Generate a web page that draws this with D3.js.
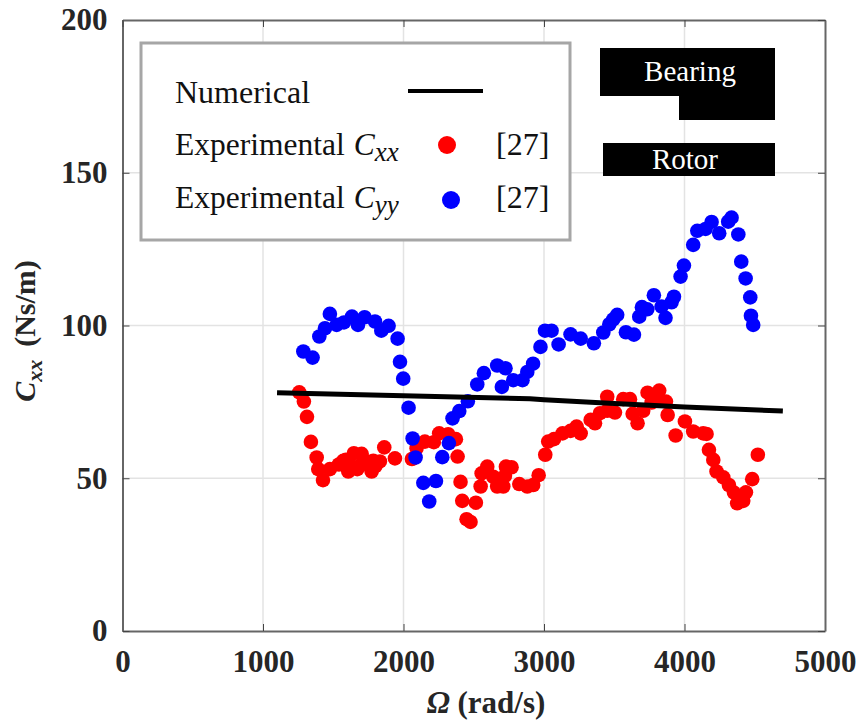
<!DOCTYPE html>
<html>
<head>
<meta charset="utf-8">
<script src="https://cdn.jsdelivr.net/npm/d3@7"></script>
<style>
html, body { margin: 0; padding: 0; background: #fff; }
svg { display: block; }
text { font-family: "Liberation Serif", serif; }
</style>
</head>
<body>
<svg width="859" height="720"></svg>
<script>
// Values
var lineSpeed = [1100, 2000, 2900, 3000, 3500, 4000, 4700];
var lineValues = [78, 77, 76, 75.7, 74.5, 73.3, 72];

var cxxSpeed = [1258, 1291, 1313, 1341, 1382, 1393, 1427, 1476, 1540, 1571, 1590, 1607, 1630, 1647, 1671, 1702, 1700, 1740, 1773, 1785, 1800, 1832, 1863, 1939,
    2060, 2093, 2152, 2216, 2254, 2318, 2373, 2385, 2406, 2418, 2515, 2449, 2477, 2549, 2556, 2596, 2639, 2667, 2710, 2722, 2729, 2769, 2824, 2881, 2923, 2962,
    3009, 3030, 3071, 3132, 3189, 3232, 3261, 3332, 3363, 3398, 3450, 3450, 3505, 3564, 3612, 3631, 3666, 3706, 3737, 3766, 3820, 3813, 3868, 3880, 3937,
    4003, 4062, 4133, 4157, 4174, 4205, 4228, 4276, 4316, 4352, 4375, 4418, 4437, 4482, 4522];
var cxxValues = [78.1, 75.1, 70.1, 61.9, 56.8, 53, 49.4, 53, 54.5, 55.7, 56, 52.2, 54, 58.2, 53, 58, 54.5, 55.5, 52.2, 55.7, 54, 55.5, 60.1, 56.5,
    56.3, 59.8, 62, 61.8, 64.7, 64.4, 62.8, 57.1, 48.8, 42.6, 42, 36.6, 35.7, 47.3, 51.6, 53.8, 50.5, 47.3, 47.3, 50.8, 53.8, 53.6, 48.1, 47.3, 47.8, 51,
    57.7, 62, 62.8, 64.7, 65.5, 66.9, 64.7, 69.1, 68, 71.3, 76.7, 72.1, 71.5, 75.9, 75.9, 71.1, 68, 72.1, 78, 74.8, 78.7, 76.2, 75.1, 70.7, 64,
    68.6, 65.3, 64.7, 64.5, 59.3, 56, 52.2, 50.3, 47.8, 45.3, 41.8, 42.6, 45.4, 49.7, 57.7];

var cyySpeed = [1287, 1353, 1401, 1441, 1476, 1524, 1576, 1633, 1676, 1723, 1797, 1842, 1894, 1958, 1975, 1998,
    2036, 2065, 2086, 2141, 2231, 2183, 2276, 2323, 2349, 2397, 2458, 2525, 2572, 2667, 2726, 2700, 2781, 2847, 2881, 2922, 2975,
    3007, 3054, 3104, 3189, 3261, 3355, 3422, 3465, 3493, 3521, 3583, 3640, 3678, 3697, 3735, 3782, 3837, 3865, 3908, 3925, 3972, 3996,
    4062, 4091, 4150, 4193, 4247, 4311, 4335, 4383, 4404, 4435, 4468, 4473, 4489];
var cyyValues = [91.5, 89.5, 96.4, 99.1, 103.8, 100.2, 101, 102.9, 100.2, 102.7, 101.3, 98.3, 99.9, 95.7, 88.1, 82.6,
    73.1, 63, 56.8, 48.5, 49.1, 42.4, 56.9, 61.5, 69.6, 72, 75.2, 80.7, 84.4, 86.9, 86, 79.9, 82.1, 82.1, 84.8, 87.5, 93,
    98.3, 98.3, 93.8, 97.1, 95.7, 94.2, 97.7, 100.4, 102, 103.5, 97.8, 97, 102.9, 106, 105.3, 109.9, 106.2, 102.5, 107.6, 109.4, 116, 119.6,
    126.4, 131, 131.6, 133.9, 130.2, 134, 135.3, 129.8, 120.9, 115.4, 109.2, 103.2, 100.2];

var xTicks = [0, 1000, 2000, 3000, 4000, 5000];
var yTicks = [0, 50, 100, 150, 200];

var svg = d3.select("svg");

var left = 122.5, right = 825, top_ = 20, bottom = 631;

var x = d3.scaleLinear().domain([0, 5000]).range([left, right]);
var y = d3.scaleLinear().domain([0, 200]).range([bottom, top_]);

// Grid
svg.append("g").selectAll("line").data(xTicks.slice(1, -1)).join("line")
    .attr("x1", d => x(d)).attr("x2", d => x(d))
    .attr("y1", top_).attr("y2", bottom)
    .attr("stroke", "#e3e3e3").attr("stroke-width", 1.5);
svg.append("g").selectAll("line").data(yTicks.slice(1, -1)).join("line")
    .attr("x1", left).attr("x2", right)
    .attr("y1", d => y(d)).attr("y2", d => y(d))
    .attr("stroke", "#e3e3e3").attr("stroke-width", 1.5);

// Points and numerical curve
svg.append("g").selectAll("circle").data(cxxSpeed).join("circle")
    .attr("cx", d => x(d))
    .attr("cy", (d, i) => y(cxxValues[i]))
    .attr("r", 7.3)
    .attr("fill", "#ff0000");
svg.append("g").selectAll("circle").data(cyySpeed).join("circle")
    .attr("cx", d => x(d))
    .attr("cy", (d, i) => y(cyyValues[i]))
    .attr("r", 7.3)
    .attr("fill", "#0000ff");

var line = d3.line().x(d => x(d)).y((d, i) => y(lineValues[i]));
svg.append("path")
    .attr("d", line(lineSpeed))
    .attr("fill", "none")
    .attr("stroke", "#000")
    .attr("stroke-width", 5);

// Axes, MATLAB style: box with ticks pointing inward
function styleAxis(g) {
    g.selectAll(".domain").attr("stroke", "#666").attr("stroke-width", 2);
    g.selectAll(".tick line").attr("stroke", "#444").attr("stroke-width", 1);
    g.selectAll(".tick text")
        .attr("font-family", "Liberation Serif")
        .attr("font-size", 31)
        .attr("font-weight", "bold")
        .attr("fill", "#262626");
}

svg.append("g").attr("transform", "translate(0," + bottom + ")")
    .call(d3.axisBottom(x).tickValues(xTicks).tickFormat(d3.format("d")).tickSize(-7).tickPadding(19).tickSizeOuter(0))
    .call(styleAxis);
svg.append("g").attr("transform", "translate(" + left + ",0)")
    .call(d3.axisLeft(y).tickValues(yTicks).tickFormat(d3.format("d")).tickSize(-7).tickPadding(15).tickSizeOuter(0))
    .call(styleAxis);
svg.append("g").attr("transform", "translate(0," + top_ + ")")
    .call(d3.axisTop(x).tickValues(xTicks).tickSize(-7).tickFormat("").tickSizeOuter(0))
    .call(styleAxis);
svg.append("g").attr("transform", "translate(" + right + ",0)")
    .call(d3.axisRight(y).tickValues(yTicks).tickSize(-7).tickFormat("").tickSizeOuter(0))
    .call(styleAxis);

// Axis titles
svg.append("text")
    .attr("x", 486).attr("y", 713)
    .attr("text-anchor", "middle")
    .attr("font-size", 31).attr("font-weight", "bold").attr("fill", "#262626")
    .html('<tspan font-style="italic">Ω</tspan> (rad/s)');

var ytitle = svg.append("text")
    .attr("transform", "translate(35,331) rotate(-90)")
    .attr("text-anchor", "middle")
    .attr("font-size", 30).attr("font-weight", "bold").attr("fill", "#262626");
ytitle.append("tspan").attr("font-style", "italic").text("C");
ytitle.append("tspan").attr("font-style", "italic").attr("font-size", 22).attr("dy", 7).text("xx");
ytitle.append("tspan").attr("dy", -7).attr("dx", 13).text("(Ns/m)");

// Legend
svg.append("rect")
    .attr("x", 141).attr("y", 43).attr("width", 429).attr("height", 197)
    .attr("fill", "#fff").attr("stroke", "#a6a6a6").attr("stroke-width", 3);

svg.append("text").attr("x", 175).attr("y", 103).attr("font-size", 32).attr("fill", "#111").text("Numerical");
svg.append("line").attr("x1", 408).attr("x2", 483).attr("y1", 91).attr("y2", 91).attr("stroke", "#000").attr("stroke-width", 4);

function legendRow(ty, sub, color, cx, cy) {
    var t = svg.append("text").attr("x", 175).attr("y", ty).attr("font-size", 31.5).attr("fill", "#111");
    t.append("tspan").text("Experimental");
    t.append("tspan").attr("font-style", "italic").attr("dx", 9).text("C");
    t.append("tspan").attr("font-style", "italic").attr("font-size", 27).attr("dy", 6).text(sub);
    svg.append("circle").attr("cx", cx).attr("cy", cy).attr("r", 9).attr("fill", color);
    svg.append("text").attr("x", 496).attr("y", ty).attr("font-size", 32).attr("fill", "#111").text("[27]");
}
legendRow(155, "xx", "#ff0000", 447, 145);
legendRow(208, "yy", "#0000ff", 451, 200);

// Bearing and rotor sketch
svg.append("path")
    .attr("d", "M600,48H775V120H679V96H600Z")
    .attr("fill", "#000");
svg.append("rect").attr("x", 603).attr("y", 143).attr("width", 172).attr("height", 33).attr("fill", "#000");
svg.append("text").attr("x", 690).attr("y", 81).attr("text-anchor", "middle").attr("font-size", 29).attr("fill", "#fff").text("Bearing");
svg.append("text").attr("x", 685).attr("y", 169).attr("text-anchor", "middle").attr("font-size", 29).attr("fill", "#fff").text("Rotor");
</script>
</body>
</html>
